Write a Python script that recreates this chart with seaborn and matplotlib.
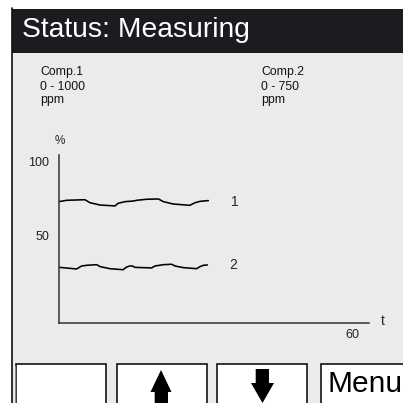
import numpy as np
import pandas as pd
import seaborn as sns
import matplotlib.pyplot as plt
from matplotlib.patches import Rectangle, Polygon

sns.set_style("white")
plt.rcParams['font.family'] = ['Liberation Sans', 'DejaVu Sans']

# Data
status_text = "Status: Measuring"
comp_labels = [["Comp.1", "0 - 1000", "ppm"], ["Comp.2", "0 - 750", "ppm"]]
series_names = ["1", "2"]

t1 = [0, 1.6, 5.3, 6.3, 8.4, 11.4, 12.1, 13.5, 15.2, 15.9, 17.9, 20.3, 21.3, 23.3, 26.7, 27.8, 28.8, 30.5]
p1 = [73.2, 74.1, 74.5, 72.5, 70.9, 70.3, 72.1, 73.2, 73.6, 74.1, 74.8, 75.0, 73.2, 71.6, 70.7, 72.5, 73.4, 73.9]

t2 = [0, 3.6, 4.6, 5.7, 7.7, 8.4, 10.4, 13.1, 13.7, 14.4, 15.0, 15.5, 18.9, 19.6, 21.3, 23.0, 23.7, 25.4, 28.1, 28.8, 29.5, 30.3]
p2 = [28.8, 27.7, 29.7, 30.2, 30.6, 29.3, 27.9, 27.2, 28.8, 29.7, 29.7, 28.8, 28.4, 29.7, 30.6, 30.9, 29.7, 28.6, 27.9, 29.3, 30.2, 30.4]

y_ticks = [50, 100]
x_ticks = [60]

df = pd.concat([
    pd.DataFrame({"t": t1, "pct": p1, "comp": series_names[0]}),
    pd.DataFrame({"t": t2, "pct": p2, "comp": series_names[1]}),
])

W = H = 403
fig = plt.figure(figsize=(W / 100, H / 100), dpi=100)
fig.patch.set_facecolor("white")


def fx(x):
    return x / W


def fy(y):
    return 1 - y / H


def rect(x0, y0, x1, y1, **kw):
    fig.add_artist(Rectangle((fx(x0), fy(y1)), (x1 - x0) / W, (y1 - y0) / H,
                             transform=fig.transFigure, **kw))


# screen frame
rect(12, 52, 410, 410, facecolor="#ebebeb", edgecolor="none", zorder=-3)
rect(12, 9, 410, 52.5, facecolor="#1d1b20", edgecolor="none", zorder=-2)
fig.add_artist(plt.Line2D([fx(12), fx(12)], [fy(8), fy(410)], color="#111111",
                          lw=1.2, transform=fig.transFigure, zorder=-1))
fig.text(fx(22), fy(37), status_text, color="white", fontsize=20.3, va="baseline")

# component header texts
for i, xpos in enumerate([40, 261]):
    for j, ypos in enumerate([75, 89.5, 103.5]):
        fig.text(fx(xpos), fy(ypos), comp_labels[i][j], fontsize=8.8,
                 color="#111111", va="baseline")

# buttons
for x0, x1 in [(16, 106), (117, 207), (217, 307), (321, 420)]:
    rect(x0, 364, x1, 420, facecolor="white", edgecolor="black", lw=1.1, zorder=1)
fig.add_artist(plt.Line2D([fx(14.5), fx(14.5)], [fy(366), fy(410)], color="#888888",
                          lw=0.8, transform=fig.transFigure, zorder=1))

up = [(161, 370), (150.5, 392), (154.7, 392), (154.7, 404), (168, 404), (168, 392), (171.5, 392)]
down = [(255.7, 369), (269, 369), (269, 383), (274, 383), (262.5, 403), (251, 383), (255.7, 383)]
for pts in (up, down):
    fig.add_artist(Polygon([(fx(a), fy(b)) for a, b in pts], closed=True,
                           facecolor="black", edgecolor="none",
                           transform=fig.transFigure, zorder=2))
fig.text(fx(328), fy(392), "Menu", fontsize=21.5, color="black", va="baseline", zorder=3)

# chart
ax = fig.add_axes([fx(59), fy(323), (369 - 59) / W, (323 - 155) / H])
ax.patch.set_alpha(0)
sns.lineplot(data=df, x="t", y="pct", units="comp", estimator=None,
             color="black", lw=1.15, ax=ax, legend=False)
ax.set_xlim(0, 63.3)
ax.set_ylim(-8.8, 104.7)
ax.set_xlabel("")
ax.set_ylabel("")
for s in ["top", "right"]:
    ax.spines[s].set_visible(False)
for s in ["left", "bottom"]:
    ax.spines[s].set_color("#333333")
    ax.spines[s].set_linewidth(1.1)
ax.set_yticks(y_ticks)
ax.set_xticks(x_ticks)
ax.tick_params(axis="y", length=0, pad=7, labelsize=9, labelcolor="#222222")
ax.tick_params(axis="x", length=0, pad=4, labelsize=9, labelcolor="#222222")

ax.text(0.2, 114.2, "%", fontsize=8.5, ha="center", va="center", clip_on=False)
ax.text(66.1, -7.5, "t", fontsize=10, ha="center", va="center", clip_on=False)
ax.text(36, 73, series_names[0], fontsize=10, ha="center", va="center")
ax.text(35.6, 30.5, series_names[1], fontsize=10, ha="center", va="center")

fig.savefig("out.png", dpi=100)
